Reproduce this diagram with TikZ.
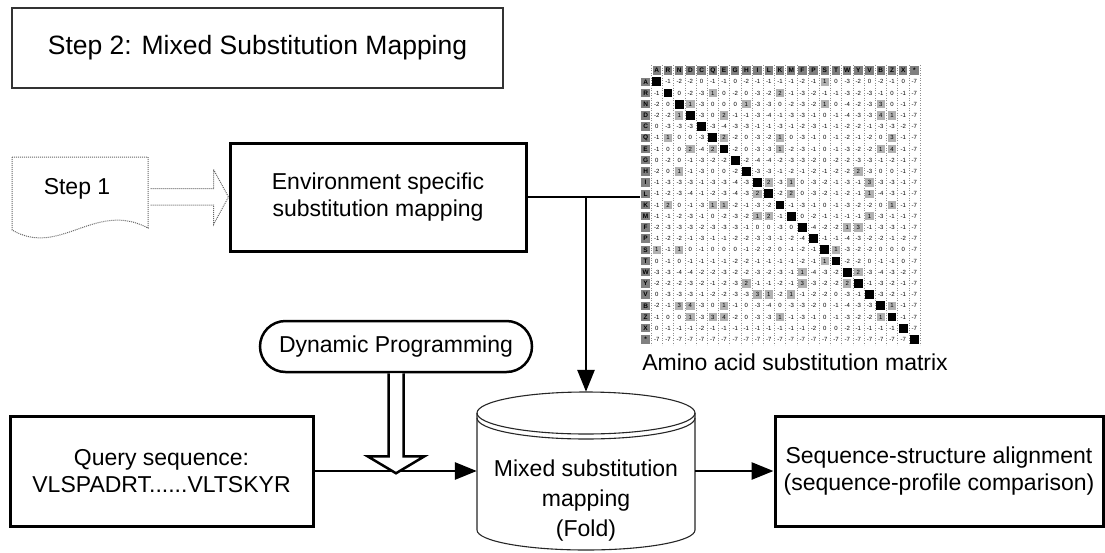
\documentclass[tikz,border=0pt]{standalone}
\usepackage{fontspec}
\setmainfont{Liberation Sans}
\usetikzlibrary{arrows.meta,calc,shapes.misc}
\begin{document}
\begin{tikzpicture}[x=1pt,y=-1pt,
  box/.style={draw, line width=3pt, align=center, font=\fontsize{23}{26.5}\selectfont, inner sep=0pt},
  txt/.style={align=center, font=\fontsize{23}{26.5}\selectfont, inner sep=0pt},
  conn/.style={line width=2.8pt, -{Triangle[length=22pt,width=17pt]}},
  plain/.style={line width=2.8pt},
  dotline/.style={densely dotted, line width=1pt, draw=black!60},
  cylline/.style={line width=1.1pt, draw=black!85},
  mnum/.style={font=\fontsize{6}{6}\selectfont, inner sep=0pt},
  mlab/.style={font=\fontsize{6.5}{6.5}\selectfont\bfseries, inner sep=0pt},
  hollow/.style={line width=2.5pt, fill=white, line join=miter}
]
\useasboundingbox (0,0) rectangle (1105,552);

% title
\node[box, line width=2.2pt, draw=black!80, minimum width=491pt, minimum height=80pt,
      font=\fontsize{26.5}{30}\selectfont] (title) at (257.5,48) {Step 2: Mixed Substitution Mapping};

% step 1 document shape
\draw[dotline] (12,157) -- (148,157) -- (148,228) .. controls (95,200) and (60,258) .. (12,230) -- cycle;
\node[txt] (step1) at (77,189) {Step 1};

% environment box
\node[box, minimum width=296pt, minimum height=108pt] (env) at (378,197) {Environment specific\\substitution mapping};

% dotted block arrow from step 1
\draw[dotline] ($(env.west)+(-78,-8.5)$) -- ++(63,0) -- ++(0,-19) -- (env.west) -- ++(-15,27.5) -- ++(0,-19.5) -- ++(-63,0);

% matrix geometry
\node[minimum width=280pt, minimum height=280pt, inner sep=0pt] (mat) at (780,205) {};
\def\aalist{A,R,N,D,C,Q,E,G,H,I,L,K,M,F,P,S,T,W,Y,V,B,Z,X,*}
\foreach \j in {1,...,25} \draw[black!45, dotted, line width=0.5pt] (640+11.2*\j,65) -- ++(0,280);
\foreach \a [count=\j] in \aalist {
  \fill[black!50] (640+11.2*\j+1.4,66.4) rectangle ++(8.4,8.4);
  \node[mlab] at (640+11.2*\j+5.6,70.6) {\a};
}
\foreach \lab/\vals [count=\i] in {
A/{4,-1,-2,-2,0,-1,-1,0,-2,-1,-1,-1,-1,-2,-1,1,0,-3,-2,0,-2,-1,0,-7},
R/{-1,5,0,-2,-3,1,0,-2,0,-3,-2,2,-1,-3,-2,-1,-1,-3,-2,-3,-1,0,-1,-7},
N/{-2,0,6,1,-3,0,0,0,1,-3,-3,0,-2,-3,-2,1,0,-4,-2,-3,3,0,-1,-7},
D/{-2,-2,1,6,-3,0,2,-1,-1,-3,-4,-1,-3,-3,-1,0,-1,-4,-3,-3,4,1,-1,-7},
C/{0,-3,-3,-3,9,-3,-4,-3,-3,-1,-1,-3,-1,-2,-3,-1,-1,-2,-2,-1,-3,-3,-2,-7},
Q/{-1,1,0,0,-3,5,2,-2,0,-3,-2,1,0,-3,-1,0,-1,-2,-1,-2,0,3,-1,-7},
E/{-1,0,0,2,-4,2,5,-2,0,-3,-3,1,-2,-3,-1,0,-1,-3,-2,-2,1,4,-1,-7},
G/{0,-2,0,-1,-3,-2,-2,6,-2,-4,-4,-2,-3,-3,-2,0,-2,-2,-3,-3,-1,-2,-1,-7},
H/{-2,0,1,-1,-3,0,0,-2,8,-3,-3,-1,-2,-1,-2,-1,-2,-2,2,-3,0,0,-1,-7},
I/{-1,-3,-3,-3,-1,-3,-3,-4,-3,4,2,-3,1,0,-3,-2,-1,-3,-1,3,-3,-3,-1,-7},
L/{-1,-2,-3,-4,-1,-2,-3,-4,-3,2,4,-2,2,0,-3,-2,-1,-2,-1,1,-4,-3,-1,-7},
K/{-1,2,0,-1,-3,1,1,-2,-1,-3,-2,5,-1,-3,-1,0,-1,-3,-2,-2,0,1,-1,-7},
M/{-1,-1,-2,-3,-1,0,-2,-3,-2,1,2,-1,5,0,-2,-1,-1,-1,-1,1,-3,-1,-1,-7},
F/{-2,-3,-3,-3,-2,-3,-3,-3,-1,0,0,-3,0,6,-4,-2,-2,1,3,-1,-3,-3,-1,-7},
P/{-1,-2,-2,-1,-3,-1,-1,-2,-2,-3,-3,-1,-2,-4,7,-1,-1,-4,-3,-2,-2,-1,-2,-7},
S/{1,-1,1,0,-1,0,0,0,-1,-2,-2,0,-1,-2,-1,4,1,-3,-2,-2,0,0,0,-7},
T/{0,-1,0,-1,-1,-1,-1,-2,-2,-1,-1,-1,-1,-2,-1,1,5,-2,-2,0,-1,-1,0,-7},
W/{-3,-3,-4,-4,-2,-2,-3,-2,-2,-3,-2,-3,-1,1,-4,-3,-2,11,2,-3,-4,-3,-2,-7},
Y/{-2,-2,-2,-3,-2,-1,-2,-3,2,-1,-1,-2,-1,3,-3,-2,-2,2,7,-1,-3,-2,-1,-7},
V/{0,-3,-3,-3,-1,-2,-2,-3,-3,3,1,-2,1,-1,-2,-2,0,-3,-1,4,-3,-2,-1,-7},
B/{-2,-1,3,4,-3,0,1,-1,0,-3,-4,0,-3,-3,-2,0,-1,-4,-3,-3,4,1,-1,-7},
Z/{-1,0,0,1,-3,3,4,-2,0,-3,-3,1,-1,-3,-1,0,-1,-3,-2,-2,1,4,-1,-7},
X/{0,-1,-1,-1,-2,-1,-1,-1,-1,-1,-1,-1,-1,-1,-2,0,0,-2,-1,-1,-1,-1,-1,-7},
*/{-7,-7,-7,-7,-7,-7,-7,-7,-7,-7,-7,-7,-7,-7,-7,-7,-7,-7,-7,-7,-7,-7,-7,1}} {
  \fill[black!50] (641.4,65+11.2*\i+1.4) rectangle ++(8.4,8.4);
  \node[mlab] at (645.6,65+11.2*\i+5.6) {\lab};
  \foreach \v [count=\j] in \vals {
    \ifnum\i=\j
      \fill (640+11.2*\j+1.2,65+11.2*\i+1.2) rectangle ++(8.8,8.8);
    \else
      \ifnum\v>0
        \fill[black!30] (640+11.2*\j+1.4,65+11.2*\i+1.4) rectangle ++(8.4,8.4);
      \fi
      \node[mnum] at (640+11.2*\j+5.6,65+11.2*\i+5.6) {\v};
    \fi
  }
}
\node[txt] (matlab) at (795,362) {Amino acid substitution matrix};

% dynamic programming
\node[txt, draw, rounded rectangle, line width=2.5pt, minimum width=272pt, minimum height=51pt] (dp) at (396,346.5) {Dynamic Programming};

% query box
\node[box, minimum width=303pt, minimum height=110pt] (q) at (161.5,471) {Query sequence:\\VLSPADRT......VLTSKYR};

% cylinder
\node[minimum width=218pt, minimum height=158pt, inner sep=0pt] (cyl) at (586,471) {};
\draw[cylline, fill=white] (477,413) -- (477,530) arc[start angle=180, end angle=360, x radius=109pt, y radius=20pt] -- (695,413);
\draw[cylline] (586,413) ellipse [x radius=109pt, y radius=21pt];
\draw[cylline] (477,418) arc[start angle=180, end angle=360, x radius=109pt, y radius=21pt];
\node[txt, font=\fontsize{23}{30}\selectfont] (cyltxt) at (586,501) {Mixed substitution\\mapping\\(Fold)};

% sequence-structure box
\node[box, minimum width=328pt, minimum height=110pt] (seq) at (939,471) {Sequence-structure alignment\\(sequence-profile comparison)};

% connectors
\draw[plain] (env.east) -- (env.east -| mat.west);
\draw[conn] (env.east -| cyl.north) -- (cyl.north);
\draw[conn] (q.east) -- (cyl.west);
\draw[conn] (cyl.east) -- (seq.west);
\draw[hollow] ([xshift=-7.5pt]dp.south) -- ++(0,83) -- ++(-21,0) -- ++(28.5,17) -- ++(28.5,-17) -- ++(-21,0) -- ++(0,-83);
\end{tikzpicture}
\end{document}
